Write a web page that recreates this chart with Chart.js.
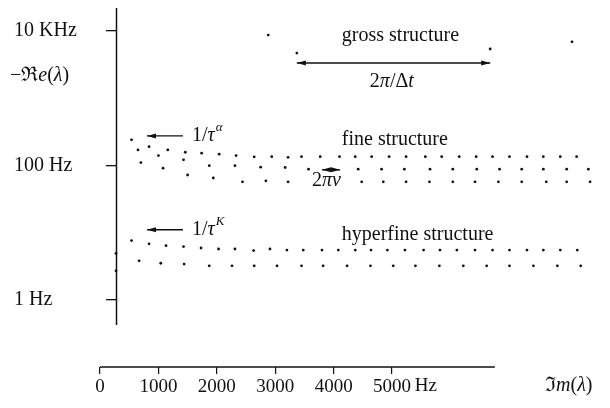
<!DOCTYPE html>
<html>
<head>
<meta charset="utf-8">
<style>
  html, body { margin: 0; padding: 0; background: #fff; }
  #wrap { width: 610px; height: 408px; }
</style>
</head>
<body>
<div id="wrap"><canvas id="spectrum"></canvas></div>
<script src="https://cdn.jsdelivr.net/npm/chart.js@4/dist/chart.umd.min.js"></script>
<script>
// eigenvalues: Im(λ) in Hz along x, -Re(λ) in Hz along y (log)
const grossIm = [2880, 3370, 6680, 8080];
const grossRe = [8700, 4700, 5400, 6900];

const fineTopIm = [540, 840, 1160, 1460, 1740, 2040, 2330, 2640, 2940, 3220, 3450, 3770, 4100, 4370, 4650, 4950, 5240, 5570, 5850, 6150, 6440, 6720, 7010, 7310, 7590, 7880, 8160];
const fineTopRe = [240, 190, 170, 157, 152, 147, 140, 134, 135, 132, 135, 135, 135, 135, 135, 135, 135, 135, 135, 135, 135, 135, 135, 135, 135, 135, 135];

const fineMidIm = [650, 1000, 1430, 1870, 2310, 2750, 3170, 3570, 4420, 4820, 5210, 5650, 6040, 6450, 6840, 7220, 7590, 7990, 8360];
const fineMidRe = [170, 140, 121, 99, 99, 94, 93, 88, 88, 88, 88, 88, 88, 88, 88, 88, 88, 88, 88];

const fineLowIm = [700, 1080, 1500, 1940, 2440, 2840, 3220, 4480, 4850, 5240, 5640, 6040, 6420, 6820, 7220, 7640, 7990, 8390];
const fineLowRe = [110, 91, 72, 65, 57, 59, 57, 57, 57, 57, 57, 57, 57, 57, 57, 57, 57, 57];

const hyperTopIm = [540, 840, 1130, 1430, 1730, 2030, 2310, 2630, 2910, 3200, 3480, 3800, 4080, 4370, 4640, 4920, 5220, 5540, 5820, 6110, 6420, 6720, 7010, 7310, 7590, 7880, 8170];
const hyperTopRe = [7.6, 6.8, 6.4, 6.2, 5.9, 5.7, 5.7, 5.4, 5.7, 5.5, 5.5, 5.5, 5.5, 5.5, 5.5, 5.5, 5.5, 5.5, 5.5, 5.5, 5.5, 5.5, 5.5, 5.5, 5.5, 5.5, 5.5];

const hyperLowIm = [670, 1040, 1440, 1870, 2260, 2640, 3030, 3450, 3820, 4230, 4630, 5020, 5400, 5810, 6220, 6620, 7010, 7420, 7830, 8230];
const hyperLowRe = [3.8, 3.5, 3.4, 3.2, 3.2, 3.2, 3.2, 3.2, 3.2, 3.2, 3.2, 3.2, 3.2, 3.2, 3.2, 3.2, 3.2, 3.2, 3.2, 3.2];

// purely real ones sit on the vertical axis
const realIm = [274, 274];
const realRe = [4.9, 2.7];

const xTicks = [0, 1000, 2000, 3000, 4000, 5000];
const xTickLabels = ['0', '1000', '2000', '3000', '4000', '5000'];
const yTicks = [1, 100, 10000];
const yTickLabels = ['1 Hz', '100 Hz', '10 KHz'];

const yAxisAt = 274;      // Im value where the vertical axis is drawn
const yAxisEnd = 0.42;    // vertical axis stops above the Im axis
const xAxisEnd = 6760;    // Im axis line stops here, dots go further

// text notes, anchored at left edge / baseline in data units
const notes = [
  { im: 4140, re: 7100, parts: [['gross structure']] },
  { im: 4620, re: 1470, parts: [['2'], ['π', 'i'], ['/'], ['Δ'], ['t', 'i']] },
  { im: 4140, re: 202, parts: [['fine structure']] },
  { im: 3630, re: 50, parts: [['2'], ['π', 'i'], ['ν', 'i']] },
  { im: 4140, re: 7.8, parts: [['hyperfine structure']] },
  { im: 1575, re: 231, parts: [['1/'], ['τ', 'i'], ['α', 'sup']] },
  { im: 1575, re: 9.3, parts: [['1/'], ['τ', 'i'], ['K', 'sup']] },
  { im: -1540, re: 1800, parts: [['−ℜ'], ['e', 'i'], ['('], ['λ', 'i'], [')']] },
  { im: 7620, re: 0.044, parts: [['ℑ'], ['m', 'i'], ['('], ['λ', 'i'], [')']] },
  { im: 5390, re: 0.044, parts: [['Hz']], size: 19 }
];

const arrows = [
  { from: [3370, 3340], to: [6680, 3340], both: true },
  { from: [1420, 275], to: [805, 275] },
  { from: [3800, 86], to: [4110, 86], both: true },
  { from: [1420, 11], to: [805, 11] }
];

const SERIF = "'Liberation Serif', 'DejaVu Serif', serif";
const INK = '#111';

const zip = (xs, ys) => xs.map((v, i) => ({ x: v, y: ys[i] }));

const series = [
  zip(grossIm, grossRe),
  zip(fineTopIm, fineTopRe),
  zip(fineMidIm, fineMidRe),
  zip(fineLowIm, fineLowRe),
  zip(hyperTopIm, hyperTopRe),
  zip(hyperLowIm, hyperLowRe),
  zip(realIm, realRe)
];

const datasets = series.map(pts => ({
  data: pts,
  showLine: false,
  pointRadius: 1.4,
  pointBackgroundColor: INK,
  pointBorderWidth: 0
}));

function drawParts(ctx, parts, x, y, size) {
  parts.forEach(([text, style]) => {
    if (style === 'sup') {
      ctx.font = 'italic 13px ' + SERIF;
      ctx.fillText(text, x + 1, y - 10);
      x += ctx.measureText(text).width + 1;
    } else {
      ctx.font = (style === 'i' ? 'italic ' : '') + size + 'px ' + SERIF;
      ctx.fillText(text, x, y);
      x += ctx.measureText(text).width;
    }
  });
}

function arrowHead(ctx, x, y, dir) {
  ctx.beginPath();
  ctx.moveTo(x, y);
  ctx.lineTo(x - dir * 9, y - 2.5);
  ctx.lineTo(x - dir * 9, y + 2.5);
  ctx.closePath();
  ctx.fill();
}

const annotations = {
  id: 'annotations',
  afterDraw(chart) {
    const { ctx, chartArea } = chart;
    const xs = chart.scales.x, ys = chart.scales.y;
    ctx.save();
    ctx.fillStyle = INK;
    ctx.strokeStyle = INK;

    // axis lines: both stop short, as in the original figure
    const ax = Math.round(xs.getPixelForValue(yAxisAt)) + 0.5;
    ctx.lineWidth = 1.5;
    ctx.beginPath();
    ctx.moveTo(ax, chartArea.top);
    ctx.lineTo(ax, ys.getPixelForValue(yAxisEnd));
    ctx.stroke();

    const ay = Math.round(chartArea.bottom);
    ctx.lineWidth = 1.7;
    ctx.beginPath();
    ctx.moveTo(chartArea.left, ay);
    ctx.lineTo(xs.getPixelForValue(xAxisEnd), ay);
    ctx.stroke();

    arrows.forEach(a => {
      const x1 = xs.getPixelForValue(a.from[0]), y1 = ys.getPixelForValue(a.from[1]);
      const x2 = xs.getPixelForValue(a.to[0]), y2 = ys.getPixelForValue(a.to[1]);
      ctx.lineWidth = 1.4;
      ctx.beginPath();
      ctx.moveTo(x1, y1);
      ctx.lineTo(x2, y2);
      ctx.stroke();
      const dir = Math.sign(x2 - x1);
      arrowHead(ctx, x2, y2, dir);
      if (a.both) arrowHead(ctx, x1, y1, -dir);
    });

    ctx.textAlign = 'left';
    ctx.textBaseline = 'alphabetic';
    notes.forEach(n => {
      drawParts(ctx, n.parts, xs.getPixelForValue(n.im), ys.getPixelForValue(n.re), n.size || 20);
    });
    ctx.restore();
  }
};

new Chart(document.getElementById('spectrum'), {
  type: 'scatter',
  data: { datasets },
  options: {
    responsive: true,
    maintainAspectRatio: false,
    animation: false,
    layout: { padding: { left: 14, right: 10, top: 8, bottom: 0 } },
    plugins: { legend: { display: false }, tooltip: { enabled: false } },
    scales: {
      x: {
        type: 'linear',
        position: 'bottom',
        min: 0,
        max: 8560,
        afterBuildTicks: s => { s.ticks = xTicks.map(v => ({ value: v })); },
        afterFit: s => { s.height = 41; s.paddingLeft = 0; s.paddingRight = 0; },
        border: { display: false },
        grid: { drawOnChartArea: false, color: INK, lineWidth: 1.2, tickLength: 7 },
        ticks: {
          color: INK,
          font: { family: SERIF, size: 19 },
          padding: 2,
          maxRotation: 0,
          autoSkip: false,
          callback: (v, i) => xTickLabels[i]
        }
      },
      y: {
        type: 'logarithmic',
        position: 'left',
        min: 0.1,
        max: 22000,
        afterBuildTicks: s => { s.ticks = yTicks.map(v => ({ value: v })); },
        afterFit: s => { s.width = 86; s.paddingTop = 0; s.paddingBottom = 0; },
        border: { display: false },
        grid: { display: false },
        ticks: {
          color: INK,
          crossAlign: 'far',
          font: { family: SERIF, size: 20 },
          callback: (v, i) => yTickLabels[i]
        }
      },
      yMarks: {
        axis: 'y',
        type: 'logarithmic',
        position: { x: yAxisAt },
        min: 0.1,
        max: 22000,
        afterBuildTicks: s => { s.ticks = yTicks.map(v => ({ value: v })); },
        afterFit: s => { s.paddingTop = 0; s.paddingBottom = 0; },
        border: { display: false },
        grid: { drawOnChartArea: false, color: INK, lineWidth: 1.3, tickLength: 10 },
        ticks: { display: false }
      }
    }
  },
  plugins: [annotations]
});
</script>
</body>
</html>
